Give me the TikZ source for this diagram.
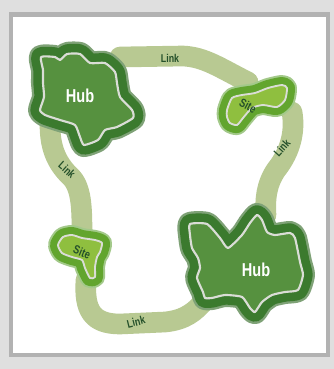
\documentclass[tikz,border=0pt]{standalone}
\usepackage{fontspec}
\setmainfont{Liberation Sans}
\newfontfamily\narrowfont[FakeStretch=0.78]{Liberation Sans}
\usepackage{xcolor}
\usepackage{tikz}

\definecolor{linkgreen}{HTML}{B8C992}
\definecolor{hubdark}{HTML}{3B7A2E}
\definecolor{hubglow}{HTML}{7FA277}
\definecolor{hubfill}{HTML}{56913F}
\definecolor{sitedark}{HTML}{62A52E}
\definecolor{siteglow}{HTML}{A3C98A}
\definecolor{sitefill}{HTML}{8FBF3F}
\definecolor{rimgray}{HTML}{DADDD6}
\definecolor{textgreen}{HTML}{24502A}

\begin{document}
\begin{tikzpicture}[
  x=0.75pt, y=-0.75pt,
  link_band/.style={line width=15.5pt, color=linkgreen, line cap=round, line join=round},
  hub_blob/.style={preaction={draw=hubglow, line width=18pt, line join=round},
                   preaction={draw=hubdark, line width=14.5pt, line join=round},
                   fill=hubfill, draw=rimgray, line width=1.6pt, line join=round},
  site_blob/.style={preaction={draw=siteglow, line width=15pt, line join=round},
                    preaction={draw=sitedark, line width=12pt, line join=round},
                    fill=sitefill, draw=rimgray, line width=1.4pt, line join=round},
  hub_label/.style={font=\narrowfont\bfseries\fontsize{14}{14}\selectfont, text=white},
  site_label/.style={font=\narrowfont\bfseries\fontsize{9}{9}\selectfont, text=textgreen},
  link_label/.style={font=\narrowfont\bfseries\fontsize{8.5}{8.5}\selectfont, text=textgreen}
]

  % Frame
  \fill[gray!25] (0,0) rectangle (334,369);
  \fill[gray!60] (9,12) rectangle (330,357);
  \fill[white] (13,17) rectangle (326,353);

  % Links
  \draw[link_band] (120,57) -- (183,56) .. controls (205,57) and (220,68) .. (248,82);
  \draw[link_band] (292,112) .. controls (296,135) and (288,155) .. (276,170)
                   .. controls (266,185) and (265,200) .. (266,215);
  \draw[link_band] (50,125) .. controls (50,150) and (58,165) .. (72,178)
                   .. controls (82,190) and (82,210) .. (82,238);
  \draw[link_band] (86,280) .. controls (84,310) and (92,324) .. (120,324)
                   -- (165,322) .. controls (185,320) and (195,312) .. (205,300);

  \node[link_label] (linkTop) at (170,58) {Link};
  \node[link_label, rotate=48] (linkRight) at (282,148) {Link};
  \node[link_label, rotate=-42] (linkLeft) at (67,170) {Link};
  \node[link_label, rotate=14] (linkBottom) at (136,322) {Link};

  % Hubs
  \path[hub_blob] plot[smooth cycle, tension=.35] coordinates {
    (41,57) (55,57) (60,60) (67,54) (80,54) (90,63) (105,63) (115,72)
    (117,83) (120,97) (132,110) (133,118) (117,127) (105,130) (98,140)
    (84,145) (80,137) (75,125) (60,120) (45,115) (40,110) (44,97) (43,83) (43,70)};
  \node[hub_label] (hubA) at (80,96) {Hub};

  \path[hub_blob] plot[smooth cycle, tension=.35] coordinates {
    (190,224) (207,224) (220,238) (228,248) (242,235) (250,223) (257,215)
    (262,220) (267,232) (275,235) (290,233) (295,238) (300,262) (303,275)
    (298,290) (285,292) (272,295) (262,302) (255,312) (250,308) (242,297)
    (225,295) (212,298) (205,298) (203,292) (197,278) (200,268) (198,258)
    (192,248) (190,235)};
  \node[hub_label] (hubB) at (256,270) {Hub};

  % Sites
  \path[site_blob] plot[smooth cycle, tension=.4] coordinates {
    (227,110) (232,98) (242,95) (255,93) (268,88) (282,85) (287,88)
    (285,100) (277,107) (263,105) (252,108) (243,118) (237,125) (230,123) (227,117)};
  \node[site_label, rotate=-28] (siteA) at (248,106) {Site};

  \path[site_blob] plot[smooth cycle, tension=.4] coordinates {
    (58,245) (63,237) (72,235) (82,238) (95,240) (102,243) (100,252)
    (97,257) (95,267) (95,277) (90,278) (85,268) (82,260) (72,257) (62,253)};
  \node[site_label, rotate=-22] (siteB) at (82,252) {Site};

\end{tikzpicture}
\end{document}
